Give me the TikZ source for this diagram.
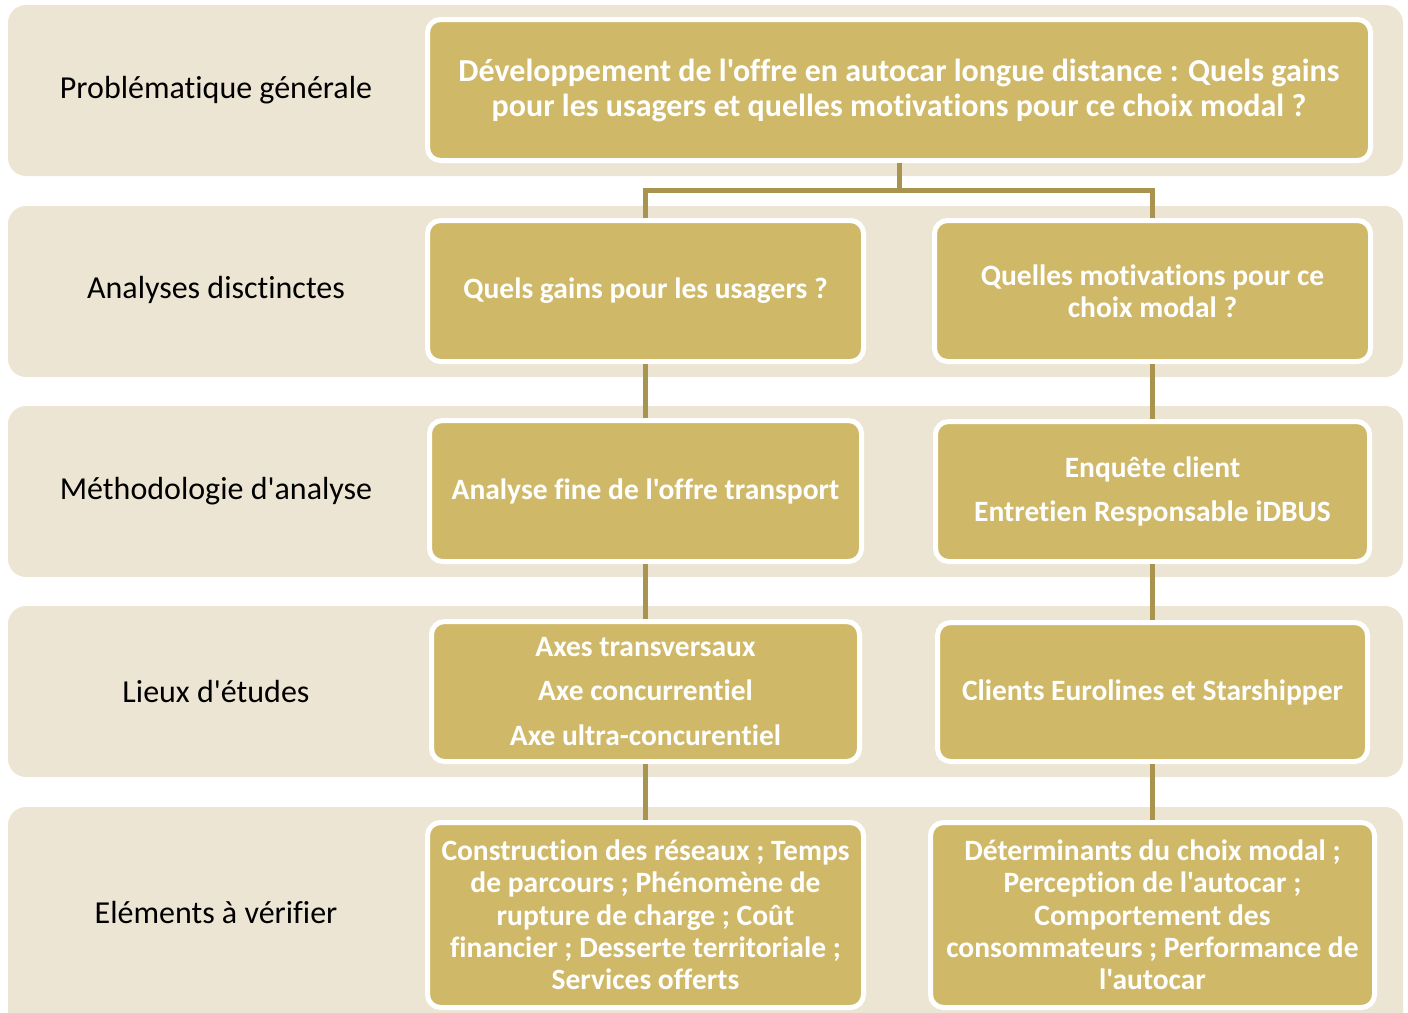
\documentclass[tikz,border=0pt]{standalone}
\usepackage{fontspec}
\setmainfont{Carlito}[Ligatures={TeXOff,NoCommon}]
\definecolor{band}{HTML}{EDE5D3}
\definecolor{gold}{HTML}{CFB968}
\definecolor{conn}{HTML}{A8944F}
\begin{document}
\begin{tikzpicture}[x=1pt,y=-1pt,
  bandbox/.style={fill=band, rounded corners=18pt},
  rowlabel/.style={text=black, font=\fontsize{32}{38}\selectfont, align=center},
  goldbox/.style={draw=white, line width=5pt, fill=gold, rounded corners=13pt,
    text=white, font=\bfseries\fontsize{29.5}{32.3}\selectfont, align=center,
    inner sep=0pt},
  bigtext/.style={font=\bfseries\fontsize{32}{35}\selectfont},
  link/.style={draw=conn, line width=5pt}
]
\useasboundingbox (0,0) rectangle (1408,1012);
% bands
\fill[bandbox] (8,5) rectangle (1403,176);
\fill[bandbox] (8,206) rectangle (1403,377);
\fill[bandbox] (8,406) rectangle (1403,577);
\fill[bandbox] (8,606) rectangle (1403,777);
\begin{scope}
\clip (0,0) rectangle (1408,1012);
\fill[bandbox] (8,807) rectangle (1403,1040);
\end{scope}
% row labels
\node[rowlabel] (l1) at (216,90) {Problématique générale};
\node[rowlabel] (l2) at (216,290) {Analyses disctinctes};
\node[rowlabel] (l3) at (216,491) {Méthodologie d'analyse};
\node[rowlabel] (l4) at (216,691) {Lieux d'études};
\node[rowlabel] (l5) at (216,912) {Eléments à vérifier};
% boxes
\node[goldbox, bigtext, minimum width=943pt, minimum height=141pt] (top) at (899,90)
  {Développement de l'offre en autocar longue distance : Quels gains\\pour les usagers et quelles motivations pour ce choix modal ?};
\node[goldbox, minimum width=436pt, minimum height=141pt] (a1) at (645.5,291)
  {Quels gains pour les usagers ?};
\node[goldbox, minimum width=436pt, minimum height=141pt] (a2) at (1152.5,291)
  {Quelles motivations pour ce\\choix modal ?};
\node[goldbox, minimum width=432pt, minimum height=141pt] (m1) at (645.5,491)
  {Analyse fine de l'offre transport};
\node[goldbox, minimum width=434pt, minimum height=140pt] (m2) at (1152.5,491.5)
  {Enquête client\\[12pt]Entretien Responsable iDBUS};
\node[goldbox, minimum width=428pt, minimum height=140pt] (e1) at (645.5,691.5)
  {Axes transversaux\\[12pt]Axe concurrentiel\\[12pt]Axe ultra-concurentiel};
\node[goldbox, minimum width=430pt, minimum height=139pt] (e2) at (1152.5,692)
  {Clients Eurolines et Starshipper};
\node[goldbox, minimum width=436pt, minimum height=185pt] (v1) at (645.5,915)
  {Construction des réseaux ; Temps\\de parcours ; Phénomène de\\rupture de charge ; Coût\\financier ; Desserte territoriale ;\\Services offerts};
\node[goldbox, minimum width=444pt, minimum height=185pt] (v2) at (1152.5,915)
  {Déterminants du choix modal ;\\Perception de l'autocar ;\\Comportement des\\consommateurs ; Performance de\\l'autocar};
% connectors
\draw[link] (top.south) -- ++(0,27) coordinate (fork) -| (a1.north);
\draw[link] (fork) -| (a2.north);
\draw[link] (a1) -- (m1);
\draw[link] (a2) -- (m2);
\draw[link] (m1) -- (e1);
\draw[link] (m2) -- (e2);
\draw[link] (e1) -- (v1);
\draw[link] (e2) -- (v2);
\end{tikzpicture}
\end{document}
